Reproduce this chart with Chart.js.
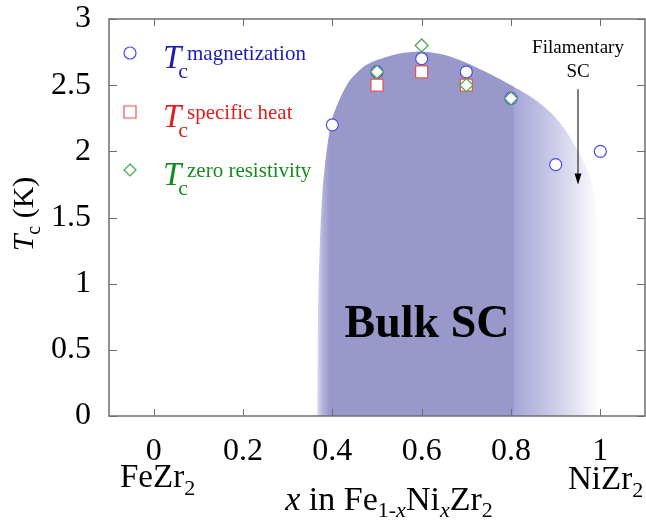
<!DOCTYPE html>
<html>
<head>
<meta charset="utf-8">
<script src="https://cdn.jsdelivr.net/npm/chart.js@4"></script>
<style>
  html, body { margin: 0; padding: 0; background: #fff; }
  #wrap { width: 646px; height: 525px; }
</style>
</head>
<body>
<div id="wrap"><canvas id="tc-chart" width="646" height="525"></canvas></div>
<script>
// 目盛り
const xTickVals = [0, 0.2, 0.4, 0.6, 0.8, 1];
const yTickVals = [0, 0.5, 1, 1.5, 2, 2.5, 3];

// Tc (magnetization)
const magX = [0.4, 0.5, 0.6, 0.7, 0.8, 0.9, 1.0];
const magY = [2.2, 2.6, 2.7, 2.6, 2.4, 1.9, 2.0];
// Tc (specific heat)
const heatX = [0.5, 0.6, 0.7];
const heatY = [2.5, 2.6, 2.5];
// Tc (zero resistivity)
const resX = [0.5, 0.6, 0.7, 0.8];
const resY = [2.6, 2.8, 2.5, 2.4];

// バルク超伝導ドームの輪郭
const domeX = [0.366, 0.368, 0.372, 0.378, 0.387, 0.40, 0.42, 0.44, 0.47, 0.50, 0.55, 0.60, 0.65, 0.70, 0.75, 0.80, 0.85, 0.89, 0.92, 0.94, 0.96, 0.978, 0.99, 0.997, 1.0, 1.0];
const domeY = [0, 0.8, 1.3, 1.7, 2.0, 2.25, 2.42, 2.54, 2.64, 2.69, 2.74, 2.755, 2.73, 2.67, 2.59, 2.5, 2.4, 2.29, 2.17, 2.06, 1.94, 1.8, 1.62, 1.4, 1.0, 0];

// 矢印 (Filamentary SC)
const arrowX = 0.95;
const arrowY = [2.47, 1.75];

const SERIF = '"Liberation Serif", "Times New Roman", serif';
const DOME = '#9898ca';

const toPts = (xs, ys) => xs.map((x, i) => ({ x: x, y: ys[i] }));

function domeFill(ctx) {
  const chart = ctx.chart;
  const area = chart.chartArea;
  if (!area) return DOME;
  const sx = chart.scales.x;
  const x0 = sx.getPixelForValue(0.366);
  const x1 = sx.getPixelForValue(1.0);
  const g = chart.ctx.createLinearGradient(x0, 0, x1, 0);
  const stop = (v, c) => g.addColorStop((sx.getPixelForValue(v) - x0) / (x1 - x0), c);
  stop(0.366, '#dcdcf0');
  stop(0.378, '#b4b4dc');
  stop(0.394, DOME);
  stop(0.805, DOME);
  stop(0.807, '#a6a6d6');
  stop(0.9, '#cdcde9');
  stop(0.96, '#ececf8');
  stop(1.0, '#ffffff');
  return g;
}

// 上付き・下付きを含むテキスト
function drawRuns(ctx, x, y, runs, color) {
  let cx = x;
  runs.forEach(r => {
    ctx.font = r.font;
    ctx.fillStyle = r.color || color;
    ctx.fillText(r.t, cx, y + (r.dy || 0));
    cx += ctx.measureText(r.t).width;
  });
  return cx;
}
function runsWidth(ctx, runs) {
  let w = 0;
  runs.forEach(r => { ctx.font = r.font; w += ctx.measureText(r.t).width; });
  return w;
}

const decorPlugin = {
  id: 'decor',
  afterDatasetsDraw(chart) {
    const ctx = chart.ctx;
    const sx = chart.scales.x, sy = chart.scales.y;
    const a = chart.chartArea;
    ctx.save();
    ctx.textBaseline = 'alphabetic';
    ctx.textAlign = 'left';

    // Bulk SC
    ctx.font = 'bold 46px ' + SERIF;
    ctx.fillStyle = '#000';
    ctx.textAlign = 'center';
    ctx.fillText('Bulk SC', 427, 337);

    // x目盛りラベル
    ctx.font = '32px ' + SERIF;
    xTickVals.forEach(v => {
      ctx.fillText(String(v), sx.getPixelForValue(v), 460);
    });

    // Filamentary SC
    ctx.font = '19px ' + SERIF;
    const ax = sx.getPixelForValue(arrowX);
    ctx.fillText('Filamentary', ax, 53);
    ctx.fillText('SC', ax, 77);
    const ay0 = sy.getPixelForValue(arrowY[0]);
    const ay1 = sy.getPixelForValue(arrowY[1]);
    ctx.strokeStyle = '#000';
    ctx.lineWidth = 1;
    ctx.beginPath();
    ctx.moveTo(ax, ay0);
    ctx.lineTo(ax, ay1 - 8);
    ctx.stroke();
    ctx.beginPath();
    ctx.moveTo(ax - 3.5, ay1 - 11);
    ctx.lineTo(ax + 3.5, ay1 - 11);
    ctx.lineTo(ax, ay1);
    ctx.closePath();
    ctx.fill();
    ctx.textAlign = 'left';

    // 枠と内向き目盛り
    ctx.strokeStyle = '#6e6e6e';
    ctx.lineWidth = 1.5;
    ctx.strokeRect(a.left, a.top, a.right - a.left, a.bottom - a.top);
    ctx.lineWidth = 1;
    ctx.beginPath();
    xTickVals.forEach(v => {
      const px = Math.round(sx.getPixelForValue(v)) + 0.5;
      ctx.moveTo(px, a.bottom); ctx.lineTo(px, a.bottom - 7);
      ctx.moveTo(px, a.top); ctx.lineTo(px, a.top + 7);
    });
    yTickVals.forEach(v => {
      const py = Math.round(sy.getPixelForValue(v)) + 0.5;
      ctx.moveTo(a.left, py); ctx.lineTo(a.left + 8, py);
      ctx.moveTo(a.right, py); ctx.lineTo(a.right - 8, py);
    });
    ctx.stroke();

    // 凡例
    const lx = 130;
    const rows = [
      { y: 53, color: '#1c1cb4', sup: 'magnetization' },
      { y: 112, color: '#e01e1e', sup: 'specific heat' },
      { y: 170, color: '#168a1e', sup: 'zero resistivity' }
    ];
    ctx.lineWidth = 1.2;
    ctx.fillStyle = '#fff';
    ctx.strokeStyle = '#4a4ae6';
    ctx.beginPath(); ctx.arc(lx, rows[0].y, 6, 0, Math.PI * 2); ctx.fill(); ctx.stroke();
    ctx.strokeStyle = '#e85050';
    ctx.beginPath(); ctx.rect(lx - 6, rows[1].y - 6, 12, 12); ctx.fill(); ctx.stroke();
    ctx.strokeStyle = '#4aa64a';
    ctx.beginPath();
    ctx.moveTo(lx, rows[2].y - 6); ctx.lineTo(lx + 6, rows[2].y);
    ctx.lineTo(lx, rows[2].y + 6); ctx.lineTo(lx - 6, rows[2].y);
    ctx.closePath(); ctx.fill(); ctx.stroke();

    rows.forEach(r => {
      const base = r.y + 15;
      ctx.font = 'italic 33px ' + SERIF;
      ctx.fillStyle = r.color;
      ctx.fillText('T', 163, base);
      const tw = ctx.measureText('T').width;
      ctx.font = '22px ' + SERIF;
      ctx.fillText('c', 163 + tw - 3, base + 10);
      ctx.font = '21px ' + SERIF;
      ctx.fillText(r.sup, 187, base - 8);
    });

    // FeZr2 / NiZr2
    const big = '33px ' + SERIF, sub = '22px ' + SERIF;
    drawRuns(ctx, 120, 487, [{ t: 'FeZr', font: big }, { t: '2', font: sub, dy: 8 }], '#000');
    drawRuns(ctx, 568, 489, [{ t: 'NiZr', font: big }, { t: '2', font: sub, dy: 8 }], '#000');

    // x軸タイトル
    const f34 = '34px ' + SERIF, i34 = 'italic 34px ' + SERIF;
    const f22 = '22px ' + SERIF, i22 = 'italic 22px ' + SERIF;
    const xRuns = [
      { t: 'x', font: i34 }, { t: ' in Fe', font: f34 },
      { t: '1-', font: f22, dy: 7 }, { t: 'x', font: i22, dy: 7 },
      { t: 'Ni', font: f34 }, { t: 'x', font: i22, dy: 7 },
      { t: 'Zr', font: f34 }, { t: '2', font: f22, dy: 7 }
    ];
    drawRuns(ctx, 389 - runsWidth(ctx, xRuns) / 2, 510, xRuns, '#000');

    // y軸タイトル
    const f30 = '30px ' + SERIF, i30 = 'italic 30px ' + SERIF;
    const yRuns = [
      { t: 'T', font: i30 }, { t: 'c', font: '20px ' + SERIF, dy: 7 }, { t: ' (K)', font: f30 }
    ];
    ctx.save();
    ctx.translate(33, 214);
    ctx.rotate(-Math.PI / 2);
    drawRuns(ctx, -runsWidth(ctx, yRuns) / 2, 0, yRuns, '#000');
    ctx.restore();

    ctx.restore();
  }
};

new Chart(document.getElementById('tc-chart'), {
  type: 'scatter',
  data: {
    datasets: [
      {
        label: 'zero resistivity',
        data: toPts(resX, resY),
        order: 1,
        pointStyle: 'rectRot',
        pointRadius: 6.5,
        pointBorderWidth: 1.2,
        pointBackgroundColor: '#ffffff',
        pointBorderColor: '#4aa64a'
      },
      {
        label: 'specific heat',
        data: toPts(heatX, heatY),
        order: 2,
        pointStyle: 'rect',
        pointRadius: 8.5,
        pointBorderWidth: 1.2,
        pointBackgroundColor: '#ffffff',
        pointBorderColor: '#e85050'
      },
      {
        label: 'magnetization',
        data: toPts(magX, magY),
        order: 3,
        pointStyle: 'circle',
        pointRadius: 6,
        pointBorderWidth: 1.2,
        pointBackgroundColor: '#ffffff',
        pointBorderColor: '#4a4ae6'
      },
      {
        label: 'Bulk SC',
        data: toPts(domeX, domeY),
        order: 4,
        showLine: true,
        tension: 0.25,
        borderWidth: 0,
        borderColor: 'rgba(0,0,0,0)',
        pointRadius: 0,
        fill: 'origin',
        backgroundColor: domeFill
      }
    ]
  },
  options: {
    responsive: false,
    animation: false,
    layout: { autoPadding: false, padding: { top: 19, right: 1, left: 0, bottom: 0 } },
    plugins: {
      legend: { display: false },
      tooltip: { enabled: false }
    },
    scales: {
      x: {
        type: 'linear',
        min: -0.1,
        max: 1.1,
        afterFit: s => { s.height = 109; s.paddingLeft = 0; s.paddingRight = 0; },
        afterBuildTicks: s => { s.ticks = xTickVals.map(v => ({ value: v })); },
        grid: { display: false, drawTicks: false },
        border: { display: false },
        ticks: { display: false }
      },
      y: {
        min: 0,
        max: 3,
        afterFit: s => { s.width = 109; s.paddingTop = 0; s.paddingBottom = 0; },
        afterBuildTicks: s => { s.ticks = yTickVals.map(v => ({ value: v })); },
        grid: { display: false, drawTicks: false },
        border: { display: false },
        ticks: {
          padding: 18,
          color: '#000',
          font: { family: SERIF, size: 32 },
          callback: v => String(v)
        }
      }
    }
  },
  plugins: [decorPlugin]
});
</script>
</body>
</html>
